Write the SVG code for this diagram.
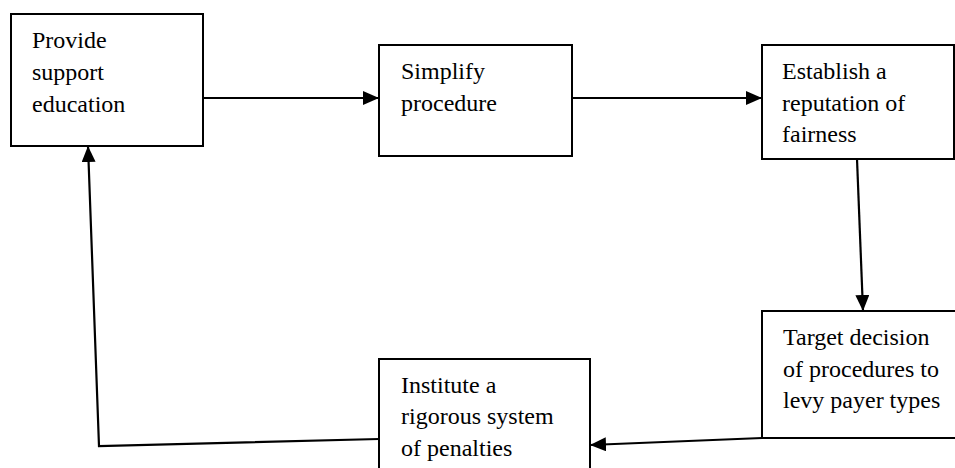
<svg xmlns="http://www.w3.org/2000/svg" width="955" height="468" viewBox="0 0 955 468">
<style>
.box{fill:#fff;stroke:#000;stroke-width:2}
.c{fill:none;stroke:#000;stroke-width:2.2}
.t{font-family:"Liberation Serif",serif;font-size:30px;fill:#000}
</style>
<defs>
<marker id="ah" viewBox="0 0 16 14" refX="16" refY="7" markerWidth="16" markerHeight="14" markerUnits="userSpaceOnUse" orient="auto">
<path d="M0,0 L16,7 L0,14 Z" fill="#000"/>
</marker>
</defs>
<rect width="955" height="468" fill="#fff"/>
<g id="connectors">
<line class="c" x1="203" y1="98" x2="379" y2="98" marker-end="url(#ah)"/>
<line class="c" x1="572" y1="98" x2="762" y2="98" marker-end="url(#ah)"/>
<line class="c" x1="857" y1="159" x2="863" y2="311" marker-end="url(#ah)"/>
<line class="c" x1="762" y1="438" x2="590" y2="445" marker-end="url(#ah)"/>
<polyline class="c" points="379,439 99,446 88,146" marker-end="url(#ah)"/>
</g>
<g id="n1">
<rect class="box" x="11" y="14" width="192" height="132"/>
<g class="t" transform="scale(0.8)">
<text x="40" y="60">Provide</text>
<text x="40" y="100">support</text>
<text x="40" y="140">education</text>
</g>
</g>
<g id="n2">
<rect class="box" x="379" y="45" width="193" height="111"/>
<g class="t" transform="scale(0.8)">
<text x="501.25" y="98.75">Simplify</text>
<text x="501.25" y="138.75">procedure</text>
</g>
</g>
<g id="n3">
<rect class="box" x="762" y="45" width="192" height="114"/>
<g class="t" transform="scale(0.8)">
<text x="977.5" y="98.75">Establish a</text>
<text x="977.5" y="138.75">reputation of</text>
<text x="977.5" y="177.5">fairness</text>
</g>
</g>
<g id="n4">
<rect class="box" x="762" y="311" width="210" height="127"/>
<g class="t" transform="scale(0.8)">
<text x="978.75" y="431.25">Target decision</text>
<text x="978.75" y="471.25">of procedures to</text>
<text x="978.75" y="510">levy payer types</text>
</g>
</g>
<g id="n5">
<rect class="box" x="379" y="359" width="211" height="130"/>
<g class="t" transform="scale(0.8)">
<text x="501.25" y="491.25">Institute a</text>
<text x="501.25" y="530">rigorous system</text>
<text x="501.25" y="570">of penalties</text>
</g>
</g>
</svg>
